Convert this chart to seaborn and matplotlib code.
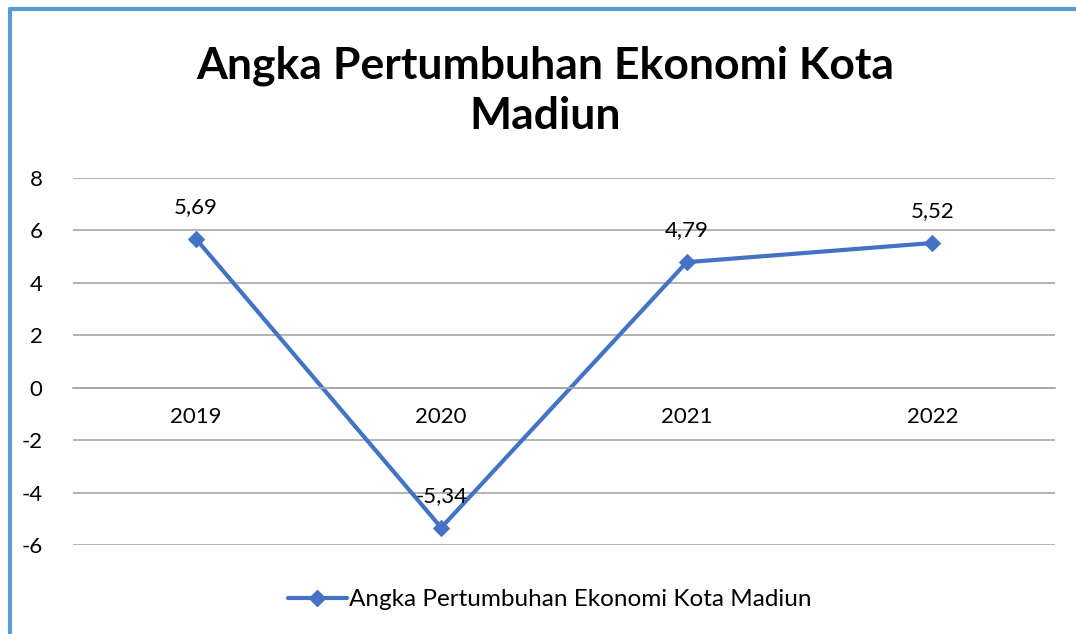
import matplotlib
matplotlib.use("Agg")
import matplotlib.pyplot as plt
import matplotlib.lines as mlines
import seaborn as sns
import pandas as pd

# data
years = ["2019", "2020", "2021", "2022"]
growth = [5.69, -5.34, 4.79, 5.52]
series_name = "Angka Pertumbuhan Ekonomi Kota Madiun"
y_ticks = [-6, -4, -2, 0, 2, 4, 6, 8]

df = pd.DataFrame({"Tahun": years, "Pertumbuhan": growth})

sns.set_style("white")
plt.rcParams["font.family"] = ["Lato", "DejaVu Sans"]
plt.rcParams["text.color"] = "black"
plt.rcParams["xtick.color"] = "black"
plt.rcParams["ytick.color"] = "black"

blue = "#4472C4"
grid_gray = "#A6A6A6"

fig = plt.figure(figsize=(10.76, 6.34), dpi=100)
ax = fig.add_axes([0.0678, 0.1404, 0.9127, 0.5788])

sns.lineplot(data=df, x="Tahun", y="Pertumbuhan", ax=ax, color=blue,
             linewidth=3, marker="D", markersize=8, markeredgecolor=blue,
             sort=False, label=series_name, legend=False)

ax.set_xlim(-0.5, len(years) - 0.5)
ax.set_ylim(-6, 8)
ax.set_yticks(y_ticks)
ax.set_yticklabels([str(t) for t in y_ticks], fontsize=16)
ax.yaxis.grid(True, color=grid_gray, linewidth=1.2)
ax.set_axisbelow(True)
ax.set_xlabel("")
ax.set_ylabel("")

# category axis crosses at zero like the original
for s in ["top", "right", "left"]:
    ax.spines[s].set_visible(False)
ax.spines["bottom"].set_position(("data", 0))
ax.spines["bottom"].set_color(grid_gray)
ax.spines["bottom"].set_linewidth(1.2)
ax.tick_params(axis="x", length=0, pad=14, labelsize=16, labelcolor="black")
ax.tick_params(axis="y", length=0, pad=22, labelcolor="black")

# data labels
for i, v in enumerate(growth):
    ax.annotate(f"{v:.2f}".replace(".", ","), (i, v), xytext=(0, 23),
                textcoords="offset points", ha="center", va="center",
                fontsize=16, color="black")

fig.text(0.5065, 0.857, "Angka Pertumbuhan Ekonomi Kota\nMadiun",
         ha="center", va="center", fontsize=32, fontweight="bold",
         linespacing=1.32, color="black")

handle = mlines.Line2D([], [], color=blue, linewidth=3, marker="D",
                       markersize=8)
fig.legend([handle], [series_name], loc="center", bbox_to_anchor=(0.511, 0.054),
           frameon=False, fontsize=17.5, handlelength=2.4, handletextpad=0.1,
           labelcolor="black")

# frame edges (left and top visible in the original)
fig.add_artist(mlines.Line2D([9.5 / 1076, 9.5 / 1076], [0, 1 - 9 / 634],
                             transform=fig.transFigure, color="#5B9BD5",
                             linewidth=3))
fig.add_artist(mlines.Line2D([9.5 / 1076, 1], [1 - 9 / 634, 1 - 9 / 634],
                             transform=fig.transFigure, color="#5B9BD5",
                             linewidth=3))

fig.savefig("out.png", dpi=100)
